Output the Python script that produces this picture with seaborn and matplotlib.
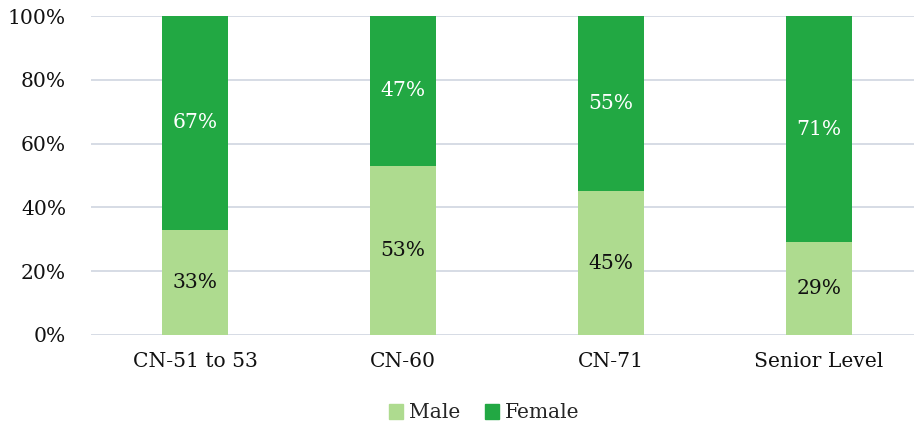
import pandas as pd
import matplotlib.pyplot as plt
import matplotlib.patches as mpatches
import seaborn as sns

categories = ["CN-51 to 53", "CN-60", "CN-71", "Senior Level"]
male = [33, 53, 45, 29]
female = [67, 47, 55, 71]

male_color = "#AEDB8F"
female_color = "#22A843"

sns.set_theme(style="white")
plt.rcParams['font.family'] = ['DejaVu Serif']
fs = 14.6

df = pd.DataFrame({"category": categories, "Male": male, "Female": female})
df["total"] = df["Male"] + df["Female"]

fig = plt.figure(figsize=(9.14, 4.32), dpi=100)
ax = fig.add_axes([91 / 914, 1 - 335 / 432, 823 / 914, 319 / 432])

# stacked: draw total in female colour, then male part over it
sns.barplot(data=df, x="category", y="total", color=female_color, width=0.32,
            saturation=1, linewidth=0, ax=ax, zorder=3)
sns.barplot(data=df, x="category", y="Male", color=male_color, width=0.32,
            saturation=1, linewidth=0, ax=ax, zorder=3)

for i, (m, f) in enumerate(zip(male, female)):
    ax.text(i, m / 2, f"{m}%", ha="center", va="center", fontsize=fs, color="#111111", zorder=4)
    ax.text(i, m + f / 2, f"{f}%", ha="center", va="center", fontsize=fs, color="white", zorder=4)

ax.set_xlim(-0.5, -0.5 + 823 / 208)
ax.set_ylim(0, 100)
ax.set_yticks(range(0, 101, 20))
ax.set_yticklabels([f"{v}%" for v in range(0, 101, 20)], fontsize=fs, color="#111111")
ax.tick_params(axis="x", labelsize=fs, colors="#111111", pad=12, length=0)
ax.tick_params(axis="y", pad=18, length=0)
ax.yaxis.grid(True, color="#D6DCE5", linewidth=1.4, zorder=0)
ax.set_axisbelow(True)
ax.set_xlabel("")
ax.set_ylabel("")
sns.despine(ax=ax, left=True, bottom=True, top=True, right=True)

handles = [mpatches.Patch(color=male_color, label="Male"),
           mpatches.Patch(color=female_color, label="Female")]
fig.legend(handles=handles, loc="center", bbox_to_anchor=(0.53, 1 - 413 / 432), ncol=2,
           frameon=False, fontsize=fs, handlelength=0.7, handleheight=0.7,
           handletextpad=0.3, columnspacing=1.2)

fig.savefig("out.png", dpi=100)
